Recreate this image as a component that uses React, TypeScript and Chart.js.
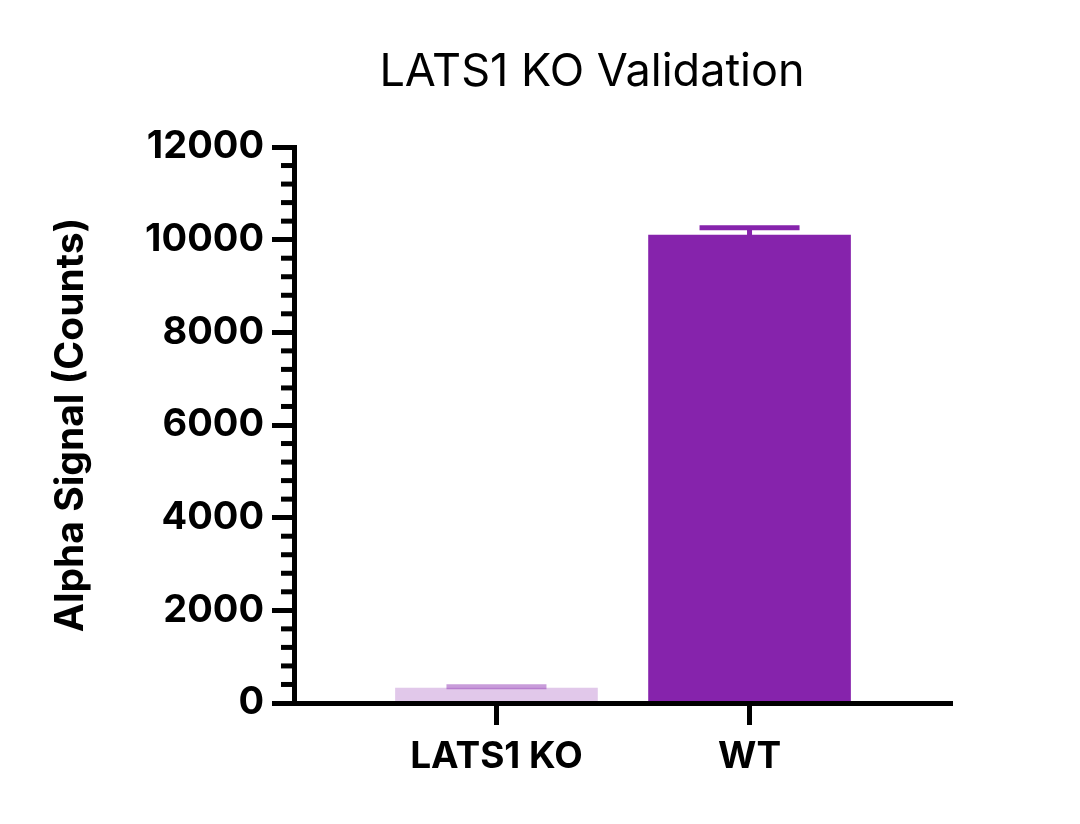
import React, { useEffect, useRef } from "react";
import { Chart, registerables } from "chart.js";

Chart.register(...registerables);

const categories = ["LATS1 KO", "WT"];
const means = [320, 10100];
const errors = [30, 155];
const barColors = ["rgba(134,35,172,0.25)", "rgb(134,35,172)"];
const errColors = ["rgba(134,35,172,0.45)", "rgb(134,35,172)"];
const yMajorTicks = [0, 2000, 4000, 6000, 8000, 10000, 12000];
const titleText = "LATS1 KO Validation";
const yTitle = "Alpha Signal (Counts)";

const errorBarPlugin = {
  id: "errorBars",
  afterDatasetsDraw(chart: any) {
    const ctx = chart.ctx;
    const meta = chart.getDatasetMeta(0);
    const yScale = chart.scales.y;
    meta.data.forEach((el: any, i: number) => {
      const top = yScale.getPixelForValue(means[i] + errors[i]);
      ctx.save();
      ctx.strokeStyle = errColors[i];
      ctx.lineWidth = 5;
      ctx.beginPath();
      ctx.moveTo(el.x, el.y);
      ctx.lineTo(el.x, top);
      ctx.moveTo(el.x - 50, top);
      ctx.lineTo(el.x + 50, top);
      ctx.stroke();
      ctx.restore();
    });
  },
};

const minorTickPlugin = {
  id: "minorTicks",
  afterDraw(chart: any) {
    const ctx = chart.ctx;
    const y = chart.scales.y;
    const left = chart.chartArea.left;
    ctx.save();
    ctx.strokeStyle = "#000";
    ctx.lineWidth = 5;
    y.ticks.forEach((t: any) => {
      if (yMajorTicks.includes(t.value)) return;
      const py = y.getPixelForValue(t.value);
      ctx.beginPath();
      ctx.moveTo(left - 2, py);
      ctx.lineTo(left - 13, py);
      ctx.stroke();
    });
    ctx.restore();
  },
};

const titlePlugin = {
  id: "customTitle",
  afterDraw(chart: any) {
    const ctx = chart.ctx;
    ctx.save();
    ctx.fillStyle = "#000";
    ctx.font = "400 45px Inter";
    ctx.textAlign = "center";
    ctx.textBaseline = "middle";
    ctx.fillText(titleText, 592, 72);
    ctx.restore();
  },
};

export default function App() {
  const ref = useRef<HTMLCanvasElement>(null);
  useEffect(() => {
    if (!ref.current) return;
    const chart = new Chart(ref.current, {
      type: "bar",
      data: {
        datasets: [
          {
            data: means.map((v, i) => ({ x: i, y: v })),
            backgroundColor: barColors,
            borderWidth: 0,
            barThickness: 202,
          },
        ],
      },
      plugins: [errorBarPlugin, minorTickPlugin, titlePlugin],
      options: {
        animation: false,
        responsive: false,
        devicePixelRatio: 1,
        layout: { padding: { top: 147, right: 128, left: 0, bottom: 0 } },
        plugins: { legend: { display: false }, tooltip: { enabled: false }, title: { display: false } },
        scales: {
          x: {
            type: "linear",
            min: -0.8,
            max: 1.8,
            offset: false,
            afterBuildTicks: (s: any) => {
              s.ticks = categories.map((_, i) => ({ value: i }));
            },
            afterFit: (s: any) => {
              s.height = 121;
            },
            ticks: {
              callback: (v: any) => categories[v] ?? "",
              color: "#000",
              font: { family: "Inter", size: 37, weight: "bold" },
              padding: 10,
              maxRotation: 0,
            },
            grid: {
              offset: false,
              drawOnChartArea: false,
              tickLength: 22,
              tickWidth: 5,
              tickColor: "#000",
            },
            border: { color: "#000", width: 5, z: 1 },
          },
          y: {
            min: 0,
            max: 12000,
            afterFit: (s: any) => {
              s.width = 294;
            },
            ticks: {
              stepSize: 400,
              autoSkip: false,
              callback: (v: any) => (yMajorTicks.includes(v) ? String(v) : ""),
              color: "#000",
              font: { family: "Inter", size: 38, weight: "bold" },
              padding: 8,
            },
            grid: {
              drawOnChartArea: false,
              tickLength: 22,
              tickWidth: 5,
              tickColor: (c: any) => (yMajorTicks.includes(c.tick?.value) ? "#000" : "rgba(0,0,0,0)"),
            },
            border: { color: "#000", width: 5, z: 1 },
            title: {
              display: true,
              text: yTitle,
              color: "#000",
              font: { family: "Inter", size: 39, weight: "bold" },
              padding: { top: 48, bottom: 0 },
            },
          },
        },
      },
    } as any);
    return () => chart.destroy();
  }, []);
  return (
    <div style={{ position: "absolute", left: 0, top: 0, width: 1080, height: 824, background: "#fff" }}>
      <canvas ref={ref} width={1080} height={824} />
    </div>
  );
}
